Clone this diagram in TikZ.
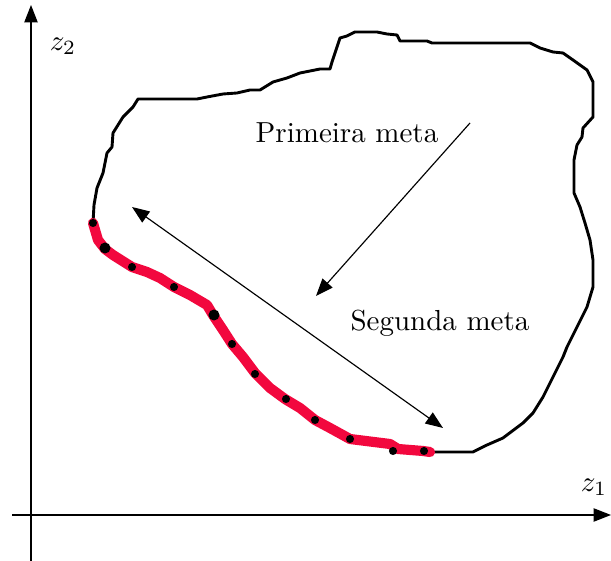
\documentclass[tikz,border=0pt]{standalone}
\usetikzlibrary{arrows.meta}
\definecolor{paretored}{RGB}{242,8,62}

\begin{document}
\begin{tikzpicture}[
    x=0.345pt, y=-0.345pt,
    >={Triangle[length=6pt,width=4.6pt]},
    region/.style={line width=1pt, line join=round},
    front/.style={line width=3.5pt, color=paretored, line join=round, line cap=round},
    goal/.style={font=\normalsize},
    dot/.style={fill=black}
]
\useasboundingbox (0,0) rectangle (611,561);

% Eixos
\coordinate (xa) at (12,515);
\coordinate (xb) at (611,515);
\coordinate (ya) at (31,561);
\coordinate (yb) at (31,5);
\draw[->] (xa) -- (xb);
\draw[->] (ya) -- (yb);
\node (z1) at (594,487) {$z_1$};
\node (z2) at (63,46) {$z_2$};

% Regi\~ao vi\'avel
\draw[region] (93,223) -- (94,205) -- (97,188) -- (103,173) -- (105,163)
  -- (107,153) -- (112,147) -- (113,133) -- (123,117) -- (133,107) -- (138,99)
  -- (197,99) -- (207,97) -- (223,94) -- (237,93) -- (250,90) -- (260,90)
  -- (273,82) -- (287,78) -- (300,73) -- (320,69) -- (330,69) -- (332,62)
  -- (335,53) -- (340,38) -- (347,36) -- (355,32) -- (377,32) -- (387,34)
  -- (397,35) -- (400,41) -- (427,41) -- (432,43) -- (530,43) -- (540,48)
  -- (553,52) -- (563,53) -- (573,60) -- (587,70) -- (593,82) -- (593,117)
  -- (583,128) -- (582,137) -- (577,145) -- (574,160) -- (574,193) -- (580,207)
  -- (585,223) -- (590,240) -- (593,260) -- (593,287) -- (587,307) -- (577,327)
  -- (567,347) -- (563,357) -- (560,363) -- (555,373) -- (550,383) -- (543,397)
  -- (533,413) -- (523,423) -- (503,438) -- (487,445) -- (473,452) -- (437,452)
  -- (430,452) -- (423,451) -- (398,449) -- (390,444) -- (350,439) -- (330,428)
  -- (315,420) -- (300,408) -- (285,399) -- (270,388) -- (255,373) -- (243,357)
  -- (232,344) -- (223,330) -- (213,315) -- (207,305) -- (190,295) -- (174,287)
  -- (160,278) -- (147,272) -- (132,267) -- (113,255) -- (105,249) -- (98,240)
  -- cycle;

% Fronteira de Pareto
\draw[front] (93,223) -- (98,240) -- (105,249) -- (113,255) -- (132,267)
  -- (147,272) -- (160,278) -- (174,287) -- (190,295) -- (207,305) -- (213,315)
  -- (223,330) -- (232,344) -- (243,357) -- (255,373) -- (270,388) -- (285,399)
  -- (300,408) -- (315,420) -- (330,428) -- (350,439) -- (390,444) -- (398,449)
  -- (423,451) -- (430,452);
\foreach \px/\py in {93/223, 132/267, 174/287, 232/344, 255/374,
                     286/399, 315/420, 350/439, 393/451, 424/451}
  \fill[dot] (\px,\py) circle (1.4pt);
\fill[dot] (105,248) circle (1.9pt);
\fill[dot] (214,315) circle (1.9pt);

% Metas
\node[goal] (meta1) at (347,133) {Primeira meta};
\node[goal] (meta2) at (440,323) {Segunda meta};
\coordinate (m1a) at (470,123);
\coordinate (m1b) at (316,296);
\coordinate (m2a) at (132,207);
\coordinate (m2b) at (443,428);
\draw[->] (m1a) -- (m1b);
\draw[<->] (m2a) -- (m2b);

\end{tikzpicture}
\end{document}
